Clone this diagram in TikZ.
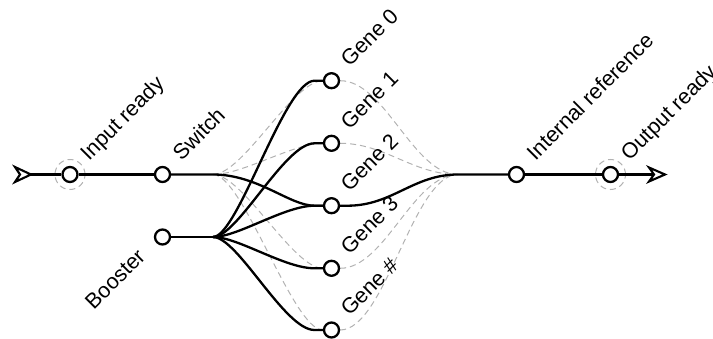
\documentclass[tikz,border=0pt]{standalone}
\usepackage{fontspec}
\setmainfont{Liberation Sans}
\usetikzlibrary{calc,backgrounds}
\begin{document}
\begin{tikzpicture}[x=1pt,y=1pt,
  conn/.style={line width=2.3pt, black},
  ghost/.style={line width=1pt, gray!60, dash pattern=on 6pt off 4pt},
  port/.style={circle, draw=black, line width=2.3pt, fill=white, minimum size=15pt, inner sep=0pt},
  halo/.style={circle, ghost, draw, minimum size=30pt, inner sep=0pt},
  lbl/.style={rotate=45, inner sep=0pt, font=\fontsize{21.5}{25}\selectfont},
  headshape/.style={draw=black, fill=white, line width=2.1pt, line join=miter}
]
\useasboundingbox (0,0) rectangle (713,338);

% ports
\node[port] (in) at (70,163.5) {};
\node[port] (sw) at (162.5,163.5) {};
\node[port] (bo) at (162.5,101) {};
\node[port] (g0) at (331.5,257.3) {};
\node[port] (g1) at (331.5,194.7) {};
\node[port] (g2) at (331.5,132.3) {};
\node[port] (g3) at (331.5,69.7) {};
\node[port] (g4) at (331.5,8) {};
\node[port] (ir) at (516.5,163.5) {};
\node[port] (out) at (610.5,163.5) {};

% junctions and arrow tips
\coordinate (sj) at (213,163.5);
\coordinate (bj) at (213,101);
\coordinate (mj) at (458,163.5);
\coordinate (inB) at (31,163.5);
\coordinate (outB) at (665,163.5);
\foreach \g in {g0,g1,g2,g3,g4} {
  \coordinate (\g s) at ($(\g)+(-17,0)$);
  \coordinate (\g r) at ($(\g)+(16,0)$);
}

\begin{scope}[on background layer]
  % halos
  \node[halo] (inhalo) at (in) {};
  \node[halo] (outhalo) at (out) {};
  % dashed alternatives
  \foreach \g in {g0,g1,g3,g4} {
    \draw[ghost] (sj) .. controls +(30,0) and +(-30,0) .. (\g.west);
    \draw[ghost] (\g.east) .. controls +(45,0) and +(-45,0) .. (mj);
  }
  % black connectors
  \draw[conn] (inB) -- (in.west);
  \draw[conn] (in.east) -- (sw.west);
  \draw[conn] (sw.east) -- (sj) .. controls +(45,0) and +(-25,0) .. (g2s) -- (g2.west);
  \draw[conn] (bo.east) -- (bj);
  \foreach \g in {g0,g1,g2,g3,g4} {
    \draw[conn] (bj) .. controls +(25,0) and +(-30,0) .. (\g s) -- (\g.west);
  }
  \draw[conn] (g2.east) -- (g2r) .. controls +(45,0) and +(-45,0) .. (mj) -- (ir.west);
  \draw[conn] (ir.east) -- (out.west);
  \draw[conn] (out.east) -- ($(outB)+(-12,0)$);
\end{scope}

% open arrowheads
\draw[headshape] (inB) -- ($(inB)+(-16,7.5)$) -- ($(inB)+(-11,0)$) -- ($(inB)+(-16,-7.5)$) -- cycle;
\draw[headshape] (outB) -- ($(outB)+(-16,7)$) -- ($(outB)+(-11,0)$) -- ($(outB)+(-16,-7)$) -- cycle;

% labels
\node[lbl, anchor=base west] (lin) at ($(in)+(19,13)$) {Input ready};
\node[lbl, anchor=base west] (lsw) at ($(sw)+(19,13)$) {Switch};
\node[lbl, anchor=base east] (lbo) at ($(bo)+(-16,-21)$) {Booster};
\node[lbl, anchor=base west] (lg0) at ($(g0)+(18,13)$) {Gene 0};
\node[lbl, anchor=base west] (lg1) at ($(g1)+(18,13)$) {Gene 1};
\node[lbl, anchor=base west] (lg2) at ($(g2)+(18,13)$) {Gene 2};
\node[lbl, anchor=base west] (lg3) at ($(g3)+(18,13)$) {Gene 3};
\node[lbl, anchor=base west] (lg4) at ($(g4)+(18,13)$) {Gene \#};
\node[lbl, anchor=base west] (lir) at ($(ir)+(19,13)$) {Internal reference};
\node[lbl, anchor=base west] (lout) at ($(out)+(19,13)$) {Output ready};
\end{tikzpicture}
\end{document}
